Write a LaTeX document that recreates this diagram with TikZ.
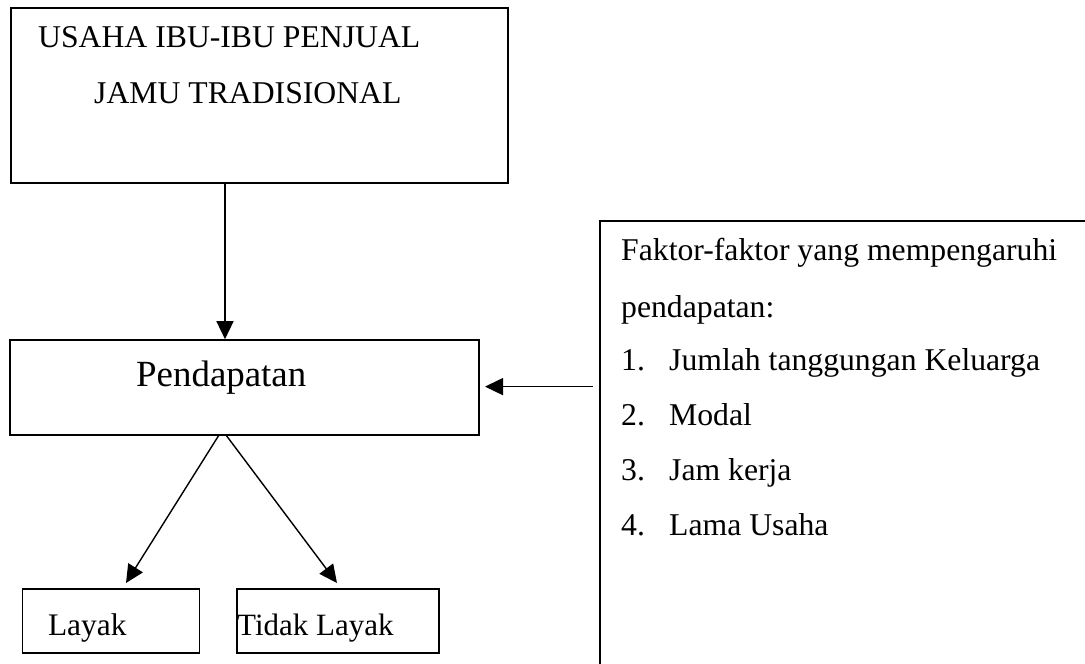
\documentclass[tikz,border=0pt]{standalone}
\usepackage{fontspec}
\setmainfont{Liberation Serif}
\usetikzlibrary{arrows.meta,calc}
\begin{document}
\begin{tikzpicture}[x=1pt,y=-1pt,
  boxshape/.style={draw,line width=1.6pt,rectangle,inner sep=0pt,minimum width=#1},
  txt/.style={anchor=base west,inner sep=0pt,font=\fontsize{31.7}{38}\selectfont},
  conn/.style={line width=1.4pt,-{Triangle[length=18pt,width=17pt]}}]
\useasboundingbox (0,0) rectangle (1085,664);
% boxes
\node[boxshape=497pt,minimum height=175pt] (top) at (259.5,95.5) {};
\node[boxshape=469pt,minimum height=95pt] (pend) at (244.5,387.5) {};
\node[boxshape=177pt,minimum height=64pt] (layak) at (111,621) {};
\node[boxshape=202pt,minimum height=64pt] (tlayak) at (338,621) {};
% right open box
\coordinate (rb1) at (1086,221);
\coordinate (rb2) at (600,221);
\coordinate (rb3) at (600,665);
\draw[line width=1.6pt] (rb1) -- (rb2) -- (rb3);
% texts
\node[txt] (t1) at (38,47) {USAHA IBU-IBU PENJUAL};
\node[txt] (t2) at (94,103) {JAMU TRADISIONAL};
\node[txt,font=\fontsize{36.9}{44}\selectfont] (tp) at (136,386) {Pendapatan};
\node[txt,font=\fontsize{31.4}{38}\selectfont] (tl) at (47.8,635) {Layak};
\node[txt,font=\fontsize{31}{38}\selectfont] (ttl) at (237,635) {Tidak Layak};
\node[txt] (f1) at (621,260) {Faktor-faktor yang mempengaruhi};
\node[txt] (f2) at (621,317) {pendapatan:};
\node[txt] (n1) at (621,370) {1.};
\node[txt] (i1) at (669,370) {Jumlah tanggungan Keluarga};
\node[txt] (n2) at (621,425) {2.};
\node[txt] (i2) at (669,425) {Modal};
\node[txt] (n3) at (621,480) {3.};
\node[txt] (i3) at (669,480) {Jam kerja};
\node[txt] (n4) at (621,535) {4.};
\node[txt] (i4) at (669,535) {Lama Usaha};
% connectors
\coordinate (v) at (225,0);
\draw[conn] (top.south -| v) -- (pend.north -| v);
\coordinate (d1s) at (219,435);
\coordinate (d1e) at (126,583);
\coordinate (d2s) at (226,435);
\coordinate (d2e) at (337,583);
\draw[conn] (d1s) -- (d1e);
\draw[conn] (d2s) -- (d2e);
\coordinate (fa) at (593,386.6);
\coordinate (fe) at (485,386.6);
\draw[conn] (fa) -- (fe);
\end{tikzpicture}
\end{document}
